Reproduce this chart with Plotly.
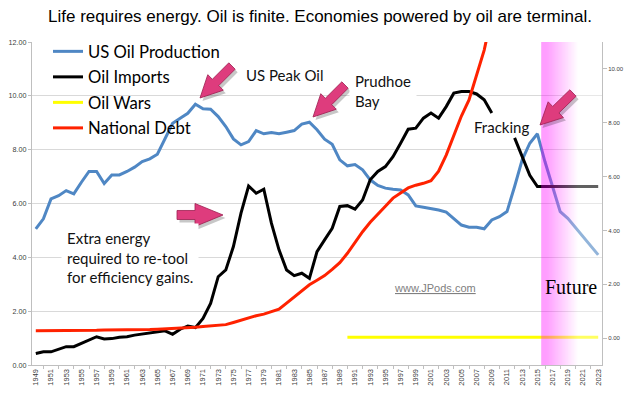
import math
import numpy as np
import plotly.graph_objects as go

# ---------------- data ----------------
years = list(range(1949, 2024))

us_oil_production = [
    5.06, 5.43, 6.17, 6.29, 6.48, 6.36, 6.79, 7.19, 7.19, 6.74,   # 1949-1958
    7.06, 7.06, 7.19, 7.35, 7.56, 7.66, 7.83, 8.43, 8.98, 9.17,   # 1959-1968
    9.35, 9.69, 9.52, 9.50, 9.23, 8.86, 8.40, 8.18, 8.30, 8.71,   # 1969-1978
    8.59, 8.64, 8.59, 8.65, 8.71, 8.95, 9.02, 8.74, 8.39, 8.20,   # 1979-1988
    7.62, 7.40, 7.45, 7.25, 6.88, 6.67, 6.57, 6.53, 6.50, 6.32,   # 1989-1998
    5.91, 5.86, 5.82, 5.76, 5.68, 5.45, 5.20, 5.12, 5.12, 5.06,   # 1999-2008
    5.39, 5.51, 5.70, 6.63, 7.62, 8.24, 8.59, 7.55, 6.60, 5.70,   # 2009-2018
    5.45, 5.10, 4.75, 4.42, 4.09,                                 # 2019-2023
]

oil_imports = [
    0.43, 0.49, 0.49, 0.58, 0.68, 0.68, 0.81, 0.95, 1.05, 0.97,   # 1949-1958
    0.98, 1.03, 1.05, 1.11, 1.15, 1.20, 1.24, 1.27, 1.14, 1.33,   # 1959-1968
    1.45, 1.39, 1.73, 2.29, 3.28, 3.53, 4.40, 5.64, 6.65, 6.38,   # 1969-1978
    6.53, 5.27, 4.28, 3.53, 3.32, 3.41, 3.22, 4.21, 4.65, 5.08,   # 1979-1988
    5.89, 5.92, 5.79, 6.13, 6.88, 7.19, 7.37, 7.74, 8.24, 8.76,   # 1989-1998
    8.80, 9.17, 9.36, 9.17, 9.60, 10.10, 10.16, 10.16, 10.07, 9.85,  # 1999-2008
    9.36, None, None, 8.44, 7.74, 7.05, 6.63, 6.63, 6.63, 6.63,   # 2009-2018
    6.63, 6.63, 6.63, 6.63, 6.63,                                 # 2019-2023
]

debt_years = list(range(1949, 2010))
national_debt = [
    1.27, 1.27, 1.27, 1.27, 1.28, 1.28, 1.29, 1.29, 1.29, 1.30,   # 1949-1958
    1.30, 1.30, 1.31, 1.31, 1.32, 1.32, 1.33, 1.34, 1.35, 1.37,   # 1959-1968
    1.38, 1.40, 1.43, 1.46, 1.48, 1.50, 1.58, 1.67, 1.75, 1.83,   # 1969-1978
    1.89, 1.97, 2.07, 2.30, 2.52, 2.75, 2.98, 3.15, 3.32, 3.55,   # 1979-1988
    3.80, 4.15, 4.55, 4.95, 5.30, 5.62, 5.90, 6.20, 6.40, 6.58,   # 1989-1998
    6.68, 6.75, 6.85, 7.20, 7.80, 8.55, 9.25, 9.85, 10.75, 11.70,  # 1999-2008
    13.00,                                                        # 2009
]

war_years = list(range(1990, 2024))
oil_wars = [
    1.03, 1.03, 1.03, 1.03, 1.03, 1.03, 1.03, 1.03, 1.03, 1.03,
    1.03, 1.03, 1.03, 1.03, 1.03, 1.03, 1.03, 1.03, 1.03, 1.03,
    1.03, 1.03, 1.03, 1.03, 1.03, 1.03, 1.03, 1.03, 1.03, 1.03,
    1.03, 1.03, 1.03, 1.03,
]

x_labels = [str(y) for y in years[::2]]
future_start = 2015.5

# ---------------- geometry helpers (screen pixels) ----------------
SCREEN_W, SCREEN_H = 640, 394
OFF = 8                      # page body margin
FIG_W, FIG_H = SCREEN_W - OFF, SCREEN_H - OFF
L, R, T, B = 32, 602, 42, 365


def pxx(x):
    return (x - L) / (R - L)


def pxy(y):
    return (B - y) / (B - T)


def arrow_path(tail, tip, w=4.5, hw=11.0, hl=22.0, off=(0.0, 0.0)):
    x0, y0 = tail[0] + off[0], tail[1] + off[1]
    x1, y1 = tip[0] + off[0], tip[1] + off[1]
    dx, dy = x1 - x0, y1 - y0
    ln = math.hypot(dx, dy)
    ux, uy = dx / ln, dy / ln
    nx, ny = -uy, ux
    bx, by = x1 - ux * hl, y1 - uy * hl
    pts = [
        (x0 + nx * w, y0 + ny * w),
        (bx + nx * w, by + ny * w),
        (bx + nx * hw, by + ny * hw),
        (x1, y1),
        (bx - nx * hw, by - ny * hw),
        (bx - nx * w, by - ny * w),
        (x0 - nx * w, y0 - ny * w),
    ]
    s = "M " + " L ".join(f"{pxx(px):.5f},{pxy(py):.5f}" for px, py in pts) + " Z"
    return s


# ---------------- figure ----------------
fig = go.Figure()

line_w = 3
fig.add_trace(go.Scatter(x=years, y=us_oil_production, mode="lines", name="US Oil Production",
                         line=dict(color="#4f87c4", width=line_w), legendgroup="a"))
fig.add_trace(go.Scatter(x=years, y=oil_imports, mode="lines", name="Oil Imports",
                         line=dict(color="#000000", width=line_w), connectgaps=False, legendgroup="b"))
fig.add_trace(go.Scatter(x=war_years, y=oil_wars, mode="lines", name="Oil Wars",
                         line=dict(color="#ffff00", width=line_w), legendgroup="c"))
fig.add_trace(go.Scatter(x=debt_years, y=national_debt, mode="lines", name="National Debt",
                         line=dict(color="#ff2200", width=line_w), legendgroup="d"))

# Future gradient overlay (on the overlaying axis so it sits above the lines)
n_cols = 80
edges = np.linspace(future_start, 2023.5, n_cols + 1)
frac = (np.arange(n_cols) + 0.5) / n_cols
tvals = np.clip((frac - 0.08) / 0.52, 0, 1)
fig.add_trace(go.Heatmap(x=edges, y=[-1, 11], z=[tvals.tolist()], zmin=0, zmax=1,
                         colorscale=[[0, "rgb(255,0,255)"], [1, "rgb(255,255,255)"]],
                         showscale=False, opacity=0.38, zsmooth="best", hoverinfo="skip",
                         xaxis="x", yaxis="y2", showlegend=False))

tick_font = dict(family="Liberation Sans, Arial", size=7.2, color="#404040")

fig.update_layout(
    width=FIG_W, height=FIG_H,
    margin=dict(l=L - OFF, r=SCREEN_W - R, t=T - OFF, b=SCREEN_H - B, autoexpand=False),
    paper_bgcolor="white", plot_bgcolor="white",
    title=dict(text="Life requires energy. Oil is finite. Economies powered by oil are terminal.",
               x=(320 - OFF) / FIG_W, xref="container", xanchor="center",
               y=1 - (16.5 - OFF) / FIG_H, yref="container", yanchor="middle",
               font=dict(family="Liberation Sans, Arial", size=17, color="black")),
    showlegend=True,
    legend=dict(x=pxx(48), y=pxy(34), xanchor="left", yanchor="top",
                bgcolor="rgba(0,0,0,0)", font=dict(family="Lato", size=16.7, color="black"),
                tracegroupgap=0.8, itemwidth=30),
    xaxis=dict(range=[1948.5, 2023.5], tickvals=years[::2], ticktext=x_labels,
               tickangle=-90, tickfont=dict(family="Liberation Sans, Arial", size=7.5, color="#404040"),
               ticks="", showgrid=False, zeroline=False, showline=True, linecolor="#bfbfbf",
               minor=dict(tick0=1950, dtick=2, ticks="outside", ticklen=3, tickcolor="#bfbfbf", showgrid=False)),
    yaxis=dict(range=[0, 12], dtick=2, tickformat=".2f", tickfont=tick_font,
               ticks="outside", ticklen=3, tickcolor="#bfbfbf",
               showgrid=True, gridcolor="#d9d9d9", gridwidth=1, zeroline=False,
               showline=True, linecolor="#bfbfbf"),
    yaxis2=dict(range=[-1, 11], dtick=2, tickformat=".2f", overlaying="y", side="right",
                tickfont=dict(family="Liberation Sans, Arial", size=6, color="#404040"),
                ticks="outside", ticklen=4, tickcolor="#bfbfbf",
                showgrid=False, zeroline=False, showline=True, linecolor="#bfbfbf"),
)

# Arrows (block arrows with soft shadow)
arrows = [
    dict(tail=(232, 66), tip=(200, 98), hl=22, hw=11),
    dict(tail=(345, 85), tip=(313, 117), hl=22, hw=11),
    dict(tail=(177, 215), tip=(223, 215), hl=28, hw=11.5),
    dict(tail=(573, 93), tip=(540, 125), hl=22, hw=11),
]
shapes = []
for a in arrows:
    shapes.append(dict(type="path", xref="paper", yref="paper", layer="above",
                       path=arrow_path(a["tail"], a["tip"], hw=a["hw"], hl=a["hl"], off=(2.5, 3)),
                       fillcolor="rgba(0,0,0,0.22)", line=dict(width=0)))
    shapes.append(dict(type="path", xref="paper", yref="paper", layer="above",
                       path=arrow_path(a["tail"], a["tip"], hw=a["hw"], hl=a["hl"]),
                       fillcolor="#de3c7d", line=dict(color="#9c1f50", width=0.8)))
fig.update_layout(shapes=shapes)

ann_font = dict(family="Lato", size=15, color="#111111")
annotations = [
    dict(text="US Peak Oil", x=pxx(284), y=pxy(75), xanchor="center", yanchor="middle", font=ann_font),
    dict(text="Prudhoe<br>Bay", x=pxx(349), y=pxy(91), xanchor="left", yanchor="middle", align="left",
         font=ann_font, bgcolor="white", borderpad=5),
    dict(text="Fracking", x=pxx(501), y=pxy(127), xanchor="center", yanchor="middle", font=ann_font),
    dict(text="Extra energy<br>required to re-tool<br>for efficiency gains.", x=pxx(61), y=pxy(258),
         xanchor="left", yanchor="middle", align="left", font=ann_font, bgcolor="white", borderpad=5),
    dict(text="<u>www.JPods.com</u>", x=pxx(435), y=pxy(288), xanchor="center", yanchor="middle",
         font=dict(family="Liberation Sans, Arial", size=11, color="#808080")),
    dict(text="Future", x=pxx(571), y=pxy(287), xanchor="center", yanchor="middle",
         font=dict(family="Liberation Serif, Times New Roman", size=20, color="black")),
]
for a in annotations:
    a.update(xref="paper", yref="paper", showarrow=False)
fig.update_layout(annotations=annotations)

fig.write_html("out.html")
